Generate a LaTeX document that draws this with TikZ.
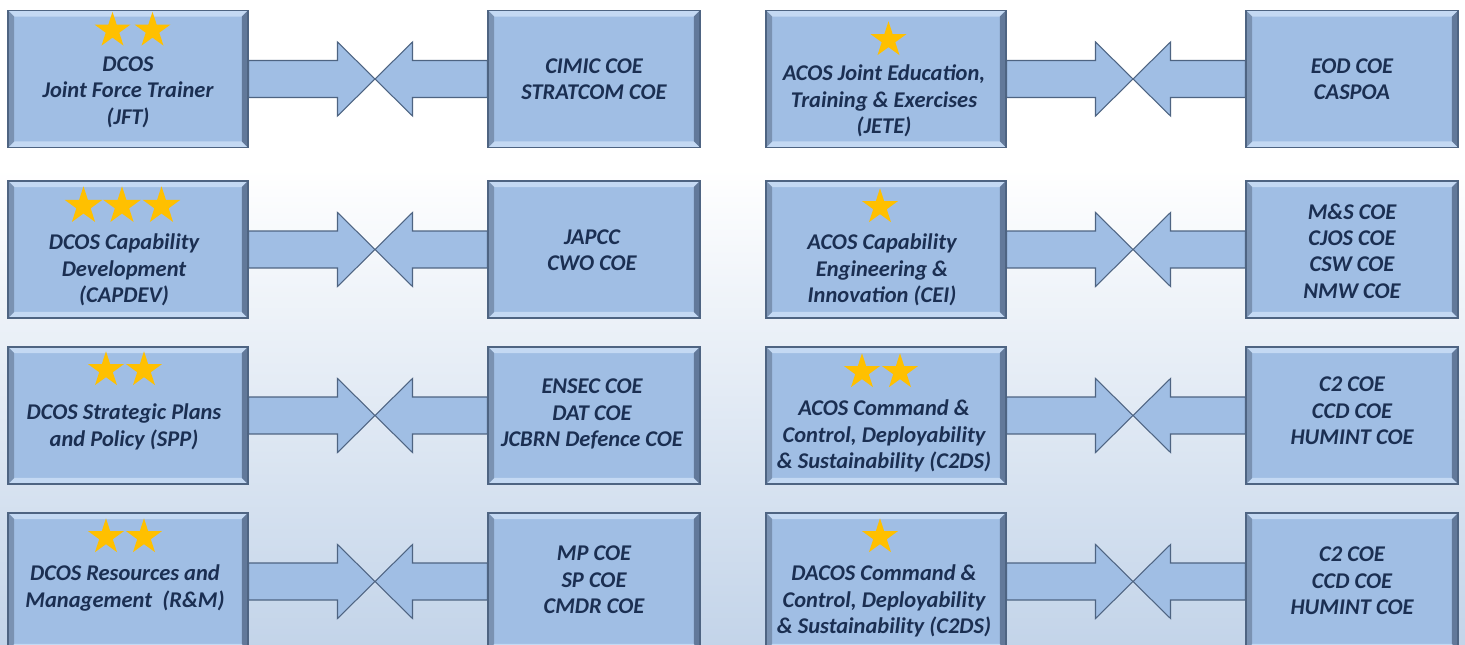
\documentclass[tikz,border=0pt]{standalone}
\usepackage{fontspec}
\setmainfont{Carlito}
\usetikzlibrary{calc,shapes.geometric}

\definecolor{boxfill}{HTML}{A0BEE4}
\definecolor{boxedge}{HTML}{4E6482}
\definecolor{bevlight}{HTML}{C4D9F3}
\definecolor{bevdark}{HTML}{7A92B2}
\definecolor{bevdarker}{HTML}{62799A}
\definecolor{stargold}{HTML}{FFC000}
\definecolor{textblue}{HTML}{1B2F52}
\definecolor{bgbottom}{HTML}{C3D4E9}

\tikzset{
	panel/.style={rectangle, draw=boxedge, fill=boxfill, line width=0.8pt, minimum height=2.74cm, inner sep=0pt,
		path picture={
			\path (path picture bounding box.north west) coordinate (pnw) (path picture bounding box.south east) coordinate (pse);
			\fill[bevlight] (pnw) -- (pnw -| pse) -- ++(-0.12cm,-0.12cm) -- ([shift={(0.12cm,-0.12cm)}]pnw) -- cycle;
			\fill[bevlight] (pse |- pse) -- (pse -| pnw) -- ++(0.12cm,0.12cm) -- ([shift={(-0.12cm,0.12cm)}]pse) -- cycle;
			\fill[bevdark] (pnw) -- (pse -| pnw) -- ++(0.12cm,0.12cm) -- ([shift={(0.12cm,-0.12cm)}]pnw) -- cycle;
			\fill[bevdarker] (pse) -- (pnw -| pse) -- ++(-0.12cm,-0.12cm) -- ([shift={(-0.12cm,0.12cm)}]pse) -- cycle;
		}},
	lbox/.style={panel, minimum width=4.8cm},
	rbox/.style={panel, minimum width=4.24cm},
	txt/.style={align=center, text=textblue, inner sep=0pt, font=\fontsize{12.8}{15}\selectfont\bfseries\itshape},
	gstar/.style={star, star points=5, star point ratio=2.618, fill=stargold, inner sep=0pt, minimum size=0.75cm},
	flow/.style={draw=boxedge, fill=boxfill, line width=0.6pt, line join=miter,
		to path={let \p1=(\tikztostart), \p2=(\tikztotarget), \n1={sign(\x2-\x1)} in
			(\x1,\y1+0.37cm) -- (\x2-\n1*0.75cm,\y1+0.37cm) -- (\x2-\n1*0.75cm,\y1+0.74cm) -- (\x2,\y2)
			-- (\x2-\n1*0.75cm,\y1-0.74cm) -- (\x2-\n1*0.75cm,\y1-0.37cm) -- (\x1,\y1-0.37cm) -- cycle}}
}

\begin{document}
\begin{tikzpicture}[x=0.02cm, y=-0.02cm]
	\clip (0,0) rectangle (1465,645);
	\fill[white] (0,0) rectangle (1465,170);
	\shade[top color=white, bottom color=bgbottom] (0,169) rectangle (1465,645);

	% left half
	\node[lbox] (jft) at (128,79) {};
	\node[rbox] (cimic) at (594,79) {};
	\node[lbox] (capdev) at (128,249.5) {};
	\node[rbox] (japcc) at (594,249.5) {};
	\node[lbox] (spp) at (128,415.5) {};
	\node[rbox] (ensec) at (594,415.5) {};
	\node[lbox] (rm) at (128,581.5) {};
	\node[rbox] (mp) at (594,581.5) {};

	% right half
	\node[lbox] (jete) at (886,79) {};
	\node[rbox] (eod) at (1352,79) {};
	\node[lbox] (cei) at (886,249.5) {};
	\node[rbox] (ms) at (1352,249.5) {};
	\node[lbox] (c2ds) at (886,415.5) {};
	\node[rbox] (c2a) at (1352,415.5) {};
	\node[lbox] (dc2ds) at (886,581.5) {};
	\node[rbox] (c2b) at (1352,581.5) {};

	% stars
	\node[gstar] (jft-s1) at (112.5,30.5) {};
	\node[gstar] (jft-s2) at (152.5,30.5) {};
	\node[gstar, minimum size=0.79cm] (capdev-s1) at (83.5,206) {};
	\node[gstar, minimum size=0.79cm] (capdev-s2) at (122,206) {};
	\node[gstar, minimum size=0.79cm] (capdev-s3) at (161.5,206) {};
	\node[gstar] (spp-s1) at (106,370) {};
	\node[gstar] (spp-s2) at (144,370) {};
	\node[gstar] (rm-s1) at (106,537) {};
	\node[gstar] (rm-s2) at (144,537) {};
	\node[gstar] (jete-s1) at (888.5,40) {};
	\node[gstar] (cei-s1) at (880,207) {};
	\node[gstar] (c2ds-s1) at (862,372) {};
	\node[gstar] (c2ds-s2) at (900,372) {};
	\node[gstar] (dc2ds-s1) at (880,537) {};

	% texts
	\node[txt] (jft-t) at (128,92) {DCOS\\Joint Force Trainer\\(JFT)};
	\node[txt] (cimic-t) at (594,79) {CIMIC COE\\STRATCOM COE};
	\node[txt] (capdev-t) at (124,270) {DCOS Capability\\Development\\(CAPDEV)};
	\node[txt] (japcc-t) at (592,250) {JAPCC\\CWO COE};
	\node[txt] (spp-t) at (124,427) {DCOS Strategic Plans\\and Policy (SPP)};
	\node[txt] (ensec-t) at (592,414) {ENSEC COE\\DAT COE\\JCBRN Defence COE};
	\node[txt] (rm-t) at (125,588) {DCOS Resources and\\Management~ (R\&M)};
	\node[txt] (mp-t) at (594,580) {MP COE\\SP COE\\CMDR COE};
	\node[txt] (jete-t) at (884,101) {ACOS Joint Education,\\Training \& Exercises\\(JETE)};
	\node[txt] (eod-t) at (1352,79) {EOD COE\\CASPOA};
	\node[txt] (cei-t) at (882,270) {ACOS Capability\\Engineering \&\\Innovation (CEI)};
	\node[txt] (ms-t) at (1352,251) {M\&S COE\\CJOS COE\\CSW COE\\NMW COE};
	\node[txt] (c2ds-t) at (884,436) {ACOS Command \&\\Control, Deployability\\\& Sustainability (C2DS)};
	\node[txt] (c2a-t) at (1352,411) {C2 COE\\CCD COE\\HUMINT COE};
	\node[txt] (dc2ds-t) at (884,601) {DACOS Command \&\\Control, Deployability\\\& Sustainability (C2DS)};
	\node[txt] (c2b-t) at (1352,581) {C2 COE\\CCD COE\\HUMINT COE};

	% meeting points
	\coordinate (x1) at (375,79);
	\coordinate (x2) at (375,249.5);
	\coordinate (x3) at (375,415.5);
	\coordinate (x4) at (375,581.5);
	\coordinate (x5) at (1133,79);
	\coordinate (x6) at (1133,249.5);
	\coordinate (x7) at (1133,415.5);
	\coordinate (x8) at (1133,581.5);

	\draw[flow] (jft.east) to (x1);
	\draw[flow] (cimic.west) to (x1);
	\draw[flow] (capdev.east) to (x2);
	\draw[flow] (japcc.west) to (x2);
	\draw[flow] (spp.east) to (x3);
	\draw[flow] (ensec.west) to (x3);
	\draw[flow] (rm.east) to (x4);
	\draw[flow] (mp.west) to (x4);
	\draw[flow] (jete.east) to (x5);
	\draw[flow] (eod.west) to (x5);
	\draw[flow] (cei.east) to (x6);
	\draw[flow] (ms.west) to (x6);
	\draw[flow] (c2ds.east) to (x7);
	\draw[flow] (c2a.west) to (x7);
	\draw[flow] (dc2ds.east) to (x8);
	\draw[flow] (c2b.west) to (x8);
\end{tikzpicture}
\end{document}
